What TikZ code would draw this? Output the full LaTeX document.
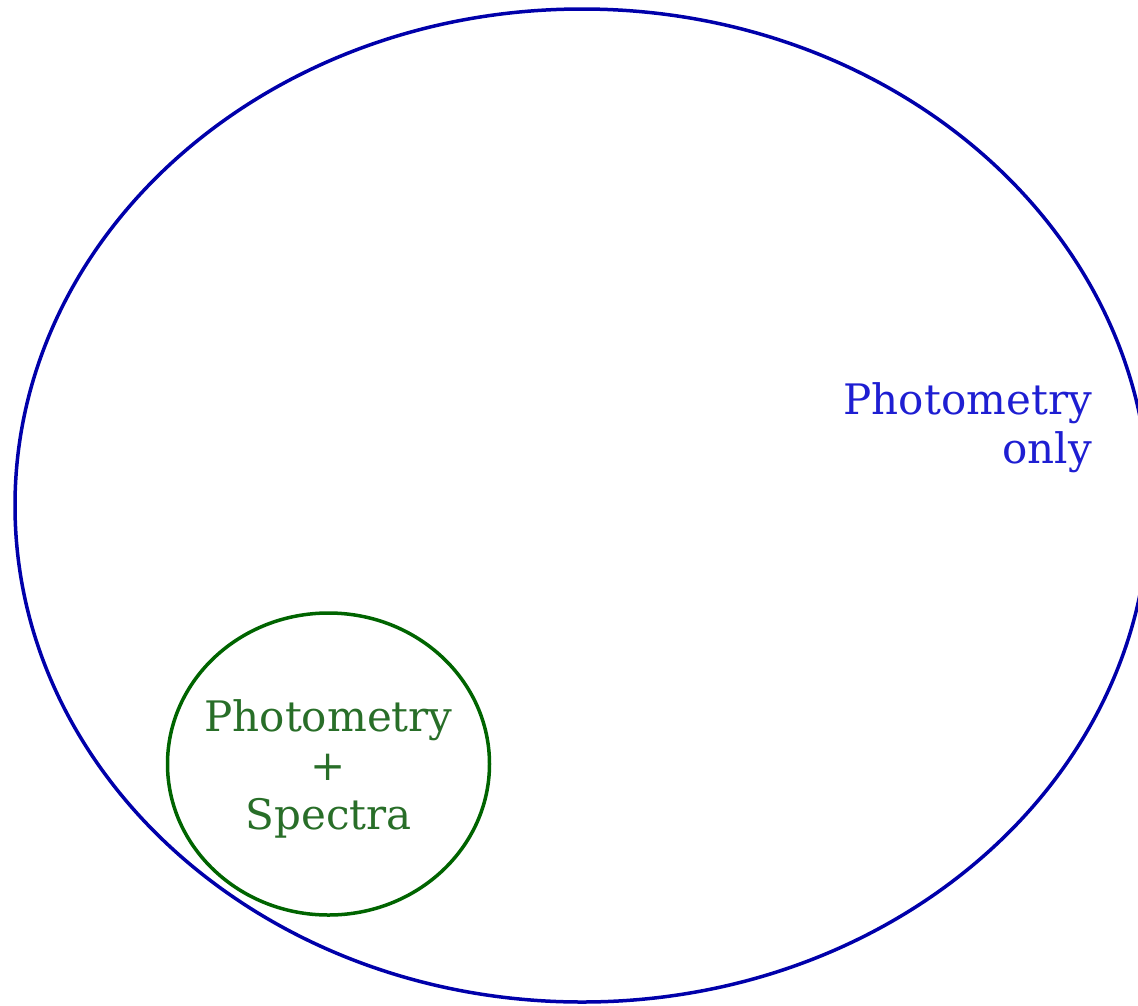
\documentclass[tikz,border=0pt]{standalone}
\usepackage{fontspec}
\setmainfont{DejaVu Serif}
\definecolor{outerblue}{RGB}{0,0,170}
\definecolor{outertext}{RGB}{30,30,210}
\definecolor{innergreen}{RGB}{0,100,0}
\definecolor{innertext}{RGB}{40,110,40}
\tikzset{
  setline/.style={line width=3.5pt},
  labeltext/.style={font=\fontsize{42}{49}\selectfont, inner sep=0pt}
}
\begin{document}
\begin{tikzpicture}[x=1pt,y=-1pt]
  \useasboundingbox (0,0) rectangle (1138,1005);
  \clip (0,0) rectangle (1138,1005);
  \draw[setline, outerblue] (582,505.5) ellipse [x radius=567, y radius=496.5];
  \draw[setline, innergreen] (328.5,764) ellipse [x radius=161, y radius=151];
  \node[labeltext, text=outertext, align=right, anchor=north east] (only) at (1092,382) {Photometry\\only};
  \node[labeltext, text=innertext, align=center, anchor=north] (both) at (328.5,699) {Photometry\\+\\Spectra};
\end{tikzpicture}
\end{document}
